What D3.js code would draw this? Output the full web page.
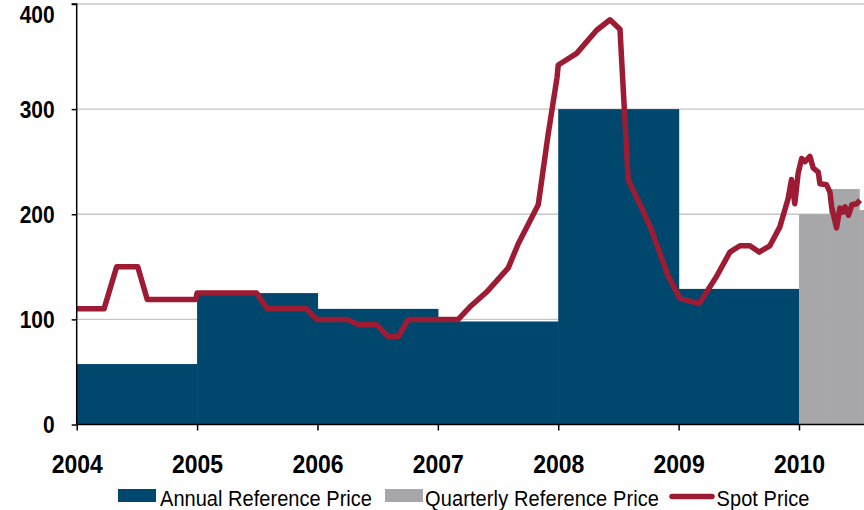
<!DOCTYPE html>
<html>
<head>
<meta charset="utf-8">
<script src="https://cdn.jsdelivr.net/npm/d3@7"></script>
<style>
  html, body { margin: 0; padding: 0; background: #fff; }
  svg { display: block; }
  text { font-family: "Liberation Sans", Arial, sans-serif; }
</style>
</head>
<body>
<svg id="chart" width="864" height="510"></svg>
<script>
// ---- data ----
const annualYears = [2004, 2005, 2006, 2007, 2008, 2009];
const annualPrice = [57.5, 125, 110, 98, 300, 129];

const quarterStart = [2010.0, 2010.25, 2010.5];
const quarterPrice = [200, 224, 204];

const spotDates = [2004.0, 2004.227, 2004.332, 2004.507, 2004.586, 2004.99, 2005.0, 2005.495, 2005.583,
  2005.91, 2005.993, 2006.247, 2006.339, 2006.492, 2006.588, 2006.671, 2006.754, 2007.169,
  2007.267, 2007.405, 2007.585, 2007.668, 2007.834, 2007.915, 2007.99, 2008.0, 2008.153,
  2008.319, 2008.43, 2008.513, 2008.581, 2008.664, 2008.765, 2008.914, 2009.011, 2009.171,
  2009.316, 2009.426, 2009.509, 2009.592, 2009.669, 2009.758, 2009.841, 2009.91, 2009.938,
  2009.965, 2009.993, 2010.022, 2010.05, 2010.091, 2010.118, 2010.16, 2010.174, 2010.229,
  2010.257, 2010.271, 2010.312, 2010.34, 2010.363, 2010.382, 2010.411, 2010.439, 2010.48, 2010.507];
const spotPrice = [110, 110, 150, 150, 119, 119, 125, 125, 110,
  110, 100, 100, 95, 95, 83.5, 83.5, 100, 100,
  112, 126, 149, 172, 209, 275, 330, 342, 353,
  375, 385, 376, 233, 213, 188, 141, 120, 115,
  141, 164, 170, 170, 164, 170, 188, 215, 233,
  210, 239, 253, 250, 255, 244, 240, 229, 228,
  221, 207, 187, 206, 202, 207, 199, 209, 210, 213.5];

const xTicks = [2004, 2005, 2006, 2007, 2008, 2009, 2010];
const yTicks = [0, 100, 200, 300, 400];
const legendLabels = ["Annual Reference Price", "Quarterly Reference Price", "Spot Price"];

// ---- chart ----
const svg = d3.select("#chart");
const xMax = 2010.54;
const x = d3.scaleLinear().domain([2004, xMax]).range([76.7, 864]);
const y = d3.scaleLinear().domain([0, 400]).range([424.5, 4]);

const cBlue = "#00476d", cGrey = "#a7a7aa", cRed = "#9d1b33";
const sy = 1.1; // vertical stretch of the reference's lettering

svg.append("defs").append("clipPath").attr("id", "clip")
  .append("rect").attr("x", x(2004)).attr("y", 0).attr("width", 864 - x(2004)).attr("height", y(0));

// gridlines
svg.append("g").selectAll("line").data(yTicks.filter(d => d > 0)).join("line")
  .attr("x1", x(2004)).attr("x2", 864)
  .attr("y1", d => y(d)).attr("y2", d => y(d))
  .attr("stroke", "#c6c6c6").attr("stroke-width", 1.3);

const plot = svg.append("g").attr("clip-path", "url(#clip)");

// annual bars
plot.append("g").selectAll("rect").data(annualYears).join("rect")
  .attr("x", d => x(d)).attr("width", d => x(d + 1) - x(d) + 0.6)
  .attr("y", (d, i) => y(annualPrice[i])).attr("height", (d, i) => y(0) - y(annualPrice[i]))
  .attr("fill", cBlue);

// quarterly bars
plot.append("g").selectAll("rect").data(quarterStart).join("rect")
  .attr("x", d => x(d)).attr("width", d => x(d + 0.25) - x(d) + 0.6)
  .attr("y", (d, i) => y(quarterPrice[i])).attr("height", (d, i) => y(0) - y(quarterPrice[i]))
  .attr("fill", cGrey);

// spot line
const spot = spotDates.map((d, i) => [d, spotPrice[i]]);
plot.append("path").datum(spot)
  .attr("d", d3.line().x(d => x(d[0])).y(d => y(d[1])))
  .attr("fill", "none").attr("stroke", cRed).attr("stroke-width", 5.5)
  .attr("stroke-linejoin", "round").attr("stroke-linecap", "butt");

// axes
const yAxis = svg.append("g").attr("transform", `translate(${x(2004)},0)`)
  .call(d3.axisLeft(y).tickValues(yTicks).tickSize(5).tickPadding(17).tickFormat(d3.format("d")));
const xAxis = svg.append("g").attr("transform", `translate(0,${y(0)})`)
  .call(d3.axisBottom(x).tickValues(xTicks).tickSize(6).tickPadding(14).tickFormat(d3.format("d")));

[yAxis, xAxis].forEach(a => {
  a.select(".domain").attr("stroke", "#000").attr("stroke-width", 1.5);
  a.selectAll(".tick line").attr("stroke", "#000").attr("stroke-width", 1.5);
  a.selectAll("text").attr("font-family", "Liberation Sans, Arial, sans-serif")
    .attr("font-weight", "bold").attr("fill", "#000");
});
yAxis.select(".domain").attr("d", `M-5,${y(400)}H0V${y(0)}`);
xAxis.select(".domain").attr("d", `M${x(2004)},0H864`);
yAxis.selectAll("text").attr("font-size", 21).attr("dy", 0)
  .attr("y", d => (d === 400 ? 18 : 8.3) / sy)
  .attr("transform", `scale(1,${sy})`);
xAxis.selectAll("text").attr("font-size", 23).attr("dy", 0)
  .attr("y", 48.8 / sy)
  .attr("transform", `scale(1,${sy})`);

// legend
const lg = svg.append("g");
lg.append("rect").attr("x", 118).attr("y", 489).attr("width", 38).attr("height", 13).attr("fill", cBlue);
lg.append("rect").attr("x", 385).attr("y", 489).attr("width", 38).attr("height", 13).attr("fill", cGrey);
lg.append("line").attr("x1", 672).attr("x2", 712).attr("y1", 496.5).attr("y2", 496.5)
  .attr("stroke", cRed).attr("stroke-width", 5.5).attr("stroke-linecap", "round");
const lx = [160, 425, 716.5], lw = [212, 234, 93];
lg.selectAll("text").data(legendLabels).join("text")
  .attr("transform", (d, i) => `translate(${lx[i]},506) scale(1,${sy})`)
  .attr("font-size", 20).attr("fill", "#000")
  .attr("textLength", (d, i) => lw[i]).attr("lengthAdjust", "spacing")
  .text(d => d);
</script>
</body>
</html>
